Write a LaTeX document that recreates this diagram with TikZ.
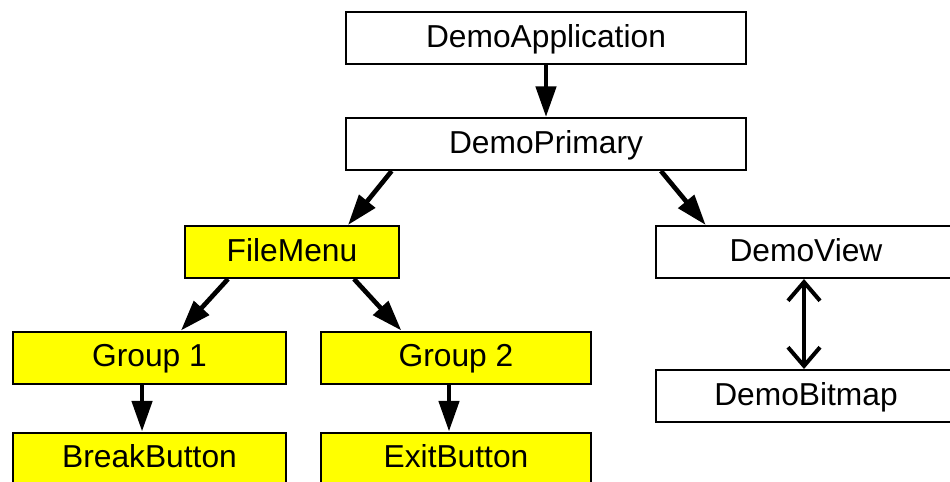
\documentclass[tikz,border=0pt]{standalone}
\usepackage{fontspec}
\setmainfont{Liberation Sans}
\usetikzlibrary{arrows.meta}
\definecolor{boxyellow}{RGB}{255,255,0}
\tikzset{
	box/.style={draw, line width=1.5pt, minimum height=39pt, inner sep=0pt, text height=13.5pt, text depth=0pt, font=\fontsize{23.8}{28}\selectfont},
	ybox/.style={box, fill=boxyellow},
	arr/.style={line width=3.5pt, -{Triangle[length=23pt,width=15pt]}},
	darr/.style={line width=3pt, {Straight Barb[length=14pt,width=24pt]}-{Straight Barb[length=14pt,width=24pt]}}
}

\begin{document}
\begin{tikzpicture}[x=0.75pt, y=-0.75pt]
			%%%%% START %%%%%
			
			\useasboundingbox (0, 0) rectangle (950, 482);
			\clip (0, 0) rectangle (950, 482);
			
			\node[box, minimum width=300pt] (app) at (546, 38) {DemoApplication};
			\node[box, minimum width=300pt] (prim) at (546, 144) {DemoPrimary};
			
			\node[ybox, minimum width=160.5pt] (fm) at (292, 252) {FileMenu};
			\node[box, minimum width=225pt] (view) at (806, 252) {DemoView};
			\node[box, minimum width=225pt] (bmp) at (806, 396) {DemoBitmap};
			
			\node[ybox, minimum width=204.75pt] (gone) at (149.5, 357.5) {Group 1};
			\node[ybox, minimum width=202.5pt] (gtwo) at (456, 357.5) {Group 2};
			\node[ybox, minimum width=204.75pt] (brk) at (149.5, 458.5) {BreakButton};
			\node[ybox, minimum width=202.5pt] (ext) at (456, 458.5) {ExitButton};
			
			\draw[arr] (app.south) -- (prim.north);
			\draw[arr] ([xshift=35pt]prim.south west) -- ([xshift=42pt]fm.north);
			\draw[arr] ([xshift=-64.5pt]prim.south east) -- ([xshift=38pt]view.north west);
			
			\draw[arr] ([xshift=33pt]fm.south west) -- ([xshift=23.6pt]gone.north);
			\draw[arr] ([xshift=-34.5pt]fm.south east) -- ([xshift=61pt]gtwo.north west);
			
			\draw[arr] ([xshift=-5.6pt]gone.south) -- ([xshift=-5.6pt]brk.north);
			\draw[arr] ([xshift=-5.25pt]gtwo.south) -- ([xshift=-5.25pt]ext.north);
			
			\draw[darr] ([xshift=-1.5pt]view.south) -- ([xshift=-1.5pt]bmp.north);
			
			%%%%% END %%%%%
		\end{tikzpicture}
\end{document}
